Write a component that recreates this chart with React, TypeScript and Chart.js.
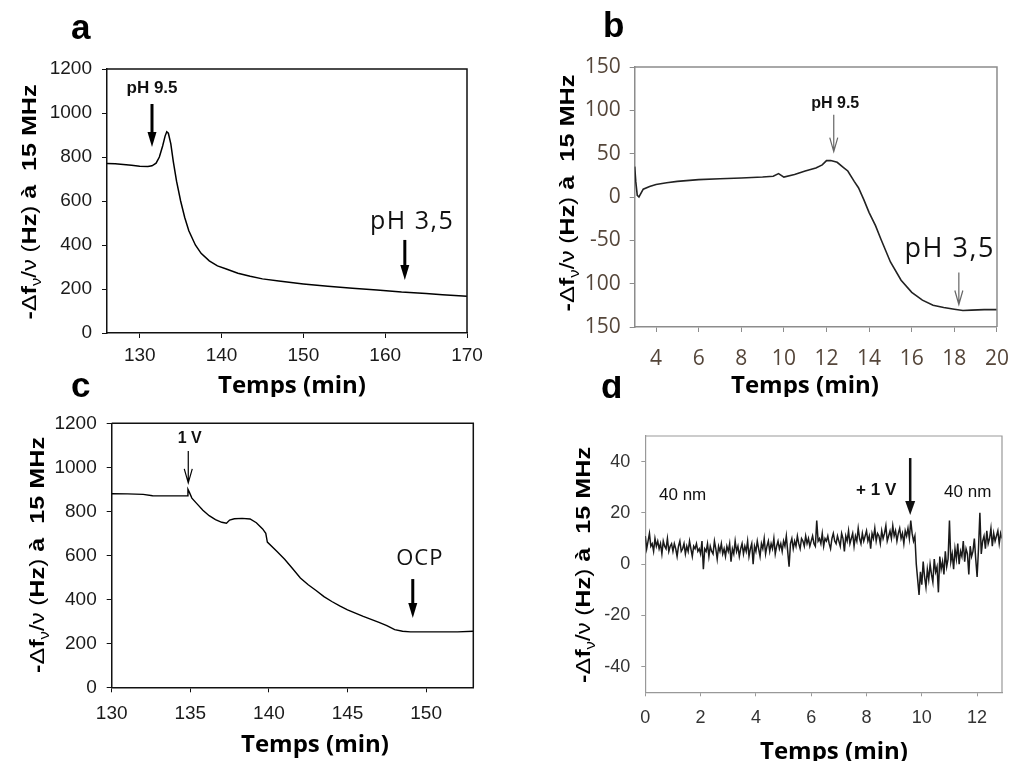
import React, { useEffect, useRef } from "react";
import { Chart, registerables } from "chart.js";
Chart.register(...registerables);

const LS = "'Liberation Sans', Arial, sans-serif";
const OS = "'Open Sans', sans-serif";

// ---------- Panel a ----------
const aTime = [126, 127, 128, 129, 130, 131, 131.5, 132, 132.4, 132.8, 133.1, 133.3, 133.5, 133.8, 134.1, 134.5, 135, 135.5, 136, 136.8, 137.5, 138.5, 139.5, 140.5, 142, 143.5, 145, 147, 150, 153, 156, 159, 162, 165, 167, 170];
const aSignal = [770, 769, 766, 762, 758, 757, 760, 772, 800, 850, 895, 915, 908, 860, 780, 690, 600, 525, 465, 400, 362, 328, 305, 292, 272, 258, 246, 236, 223, 212, 203, 195, 186, 180, 174, 167];
const aXTicks = [130, 140, 150, 160, 170];
const aYTicks = [0, 200, 400, 600, 800, 1000, 1200];

// ---------- Panel b ----------
const bTime = [3.0, 3.05, 3.12, 3.2, 3.4, 3.7, 4, 4.5, 5, 6, 7, 8, 9, 9.5, 9.75, 10, 10.5, 11, 11.5, 11.8, 12, 12.2, 12.5, 12.8, 13, 13.3, 13.5, 13.75, 14, 14.3, 14.55, 15, 15.5, 16, 16.5, 17, 17.5, 18, 18.4, 18.8, 19.4, 20];
const bSignal = [35, 18, 2, 0, 9, 12, 14.5, 16.5, 18, 20, 21, 22, 23, 24, 27, 23, 26, 30, 33.5, 37, 42, 42, 40, 34, 30, 18, 10.7, -3, -18, -33, -48.5, -75, -96, -110, -119, -125, -127.5, -129.5, -131, -130.5, -130, -130];
const bXTicks = [4, 6, 8, 10, 12, 14, 16, 18, 20];
const bYTicks = [150, 100, 50, 0, -50, -100, -150];
const bYTickLabels = ["150", "100", "50", "0", "-50", "100", "150"];

// ---------- Panel c ----------
const cTime = [130, 131, 132, 132.6, 133, 134, 134.8, 134.85, 134.95, 135.1, 135.4, 135.8, 136.2, 136.6, 137, 137.3, 137.5, 137.8, 138.3, 138.8, 139.2, 139.6, 139.8, 139.9, 140.5, 141, 141.5, 142, 142.5, 143, 143.5, 144, 144.5, 145, 146, 147, 147.5, 148, 148.5, 149, 150, 151, 152, 153];
const cSignal = [880, 879, 877, 871, 870, 870, 870, 900, 885, 860, 836, 805, 780, 762, 750, 746, 760, 766, 768, 765, 748, 720, 700, 660, 618, 582, 540, 497, 466, 440, 412, 390, 370, 352, 322, 295, 280, 262, 255, 252, 252, 252, 252, 255];
const cXTicks = [130, 135, 140, 145, 150];
const cYTicks = [0, 200, 400, 600, 800, 1000, 1200];

// ---------- Panel d ----------
const dTimeStep = 0.05;
const dSignal = [
  11, 6, 9, 12, 7, 8, 5, 10, 7, 9, 6, 8, 4, 9, 7, 6, 10, 5, 7, 8,
  5, 8, 6, 3, 7, 9, 5, 6, 8, 4, 7, 5, 9, 6, 3, 7, 6, 8, 5, 6,
  4, 9, -2, 6, 5, 8, 3, 7, 5, 4, 9, 6, 2, 7, 5, 8, 4, 6, 3, 7,
  5, 8, 1, 6, 4, 9, 5, 7, 3, 6, 8, 4, 7, 5, 9, 3, 6, 8, 0, 7,
  5, 9, 6, 3, 8, 6, 10, 4, 7, 9, 5, 8, 6, 10, 4, 7, 9, 6, 8, 5,
  9, 7, 11, 5, -1, 8, 10, 6, 9, 7, 11, 8, 6, 10, 9, 7, 11, 8, 10, 7,
  9, 11, 8, 7, 17, 9, 10, 8, 12, 7, 10, 9, 11, 8, 6, 10, 12, 9, 8, 11,
  9, 7, 12, 10, 5, 11, 9, 13, 8, 10, 12, 7, 11, 9, 14, 10, 8, 12, 9, 11,
  13, 9, 11, 6, 12, 10, 14, 9, 12, 11, 8, 13, 10, 12, 15, 9, 11, 13, 10, 15,
  11, 13, 9, 12, 14, 10, 12, 8, 13, 11, 14, 10, 17, 12, 9, 11,
  0,
  -6, -12, -3, -8, 1, -5, -9, -2, -6, 0, -4, -7, 2, -3, -1, -11, 3, -2, 1, -4, 5, -1, 2,
  17, 1, 4, -2, 6, 2, 8, 0, 5, 3, 9, 1, 6, 4, -4, 7, 3, 5, 10, 2,
  -5, 6, 20, 4, 9, 11, 6, 13, 8, 10, 14, 7, 12, 9, 11, 13, 8, 12, 10,
];
const dTime = dSignal.map((_, i) => Math.round(i * dTimeStep * 100) / 100);
const dXTicks = [0, 2, 4, 6, 8, 10, 12];
const dYTicks = [-40, -20, 0, 20, 40];

const xTitleText = "Temps (min)";

type Arrow = { x: number; y1: number; y2: number; kind: "bold" | "thin" | "medium"; color: string };
type Label = { text: string; x: number; y: number; font: string; spacing?: number };
type Spec = {
  key: string;
  left: number; top: number; width: number; height: number;
  area: { l: number; t: number; r: number; b: number };
  xs: number[]; ys: number[];
  xMin: number; xMax: number; yMin: number; yMax: number;
  xTicks: number[]; yTicks: number[]; yTickLabels?: string[];
  tickFamily: string; tickSize: number; tickColor: string;
  axisColor: string; boxWidth: number; tickLen: number; yPad: number; xPad: number;
  lineColor: string; lineWidth: number;
  letter: { text: string; x: number; y: number; size: number };
  xTitle: { x: number; y: number };
  yTitle: { x: number; y: number; len: number };
  labels: Label[]; arrows: Arrow[];
};

function drawYTitle(ctx: CanvasRenderingContext2D, cx: number, cy: number, len: number) {
  const segs = [
    { t: "-", f: `bold 21px ${LS}`, dy: 0 },
    { t: "\u0394", f: `21px ${LS}`, dy: 0 },
    { t: "f", f: `bold 21px ${LS}`, dy: 0 },
    { t: "\u03bd", f: `14px ${LS}`, dy: 5 },
    { t: "/\u03bd", f: `20px ${LS}`, dy: 0 },
    { t: " (", f: `20px ${LS}`, dy: 0 },
    { t: "Hz", f: `bold 21px ${LS}`, dy: 0 },
    { t: ")", f: `20px ${LS}`, dy: 0 },
    { t: " \u00e0  15 MHz", f: `bold 21px ${LS}`, dy: 0 },
  ];
  const widths = segs.map((s) => { ctx.font = s.f; return ctx.measureText(s.t).width; });
  const total = widths.reduce((a, b) => a + b, 0);
  ctx.save();
  ctx.translate(cx, cy);
  ctx.rotate(-Math.PI / 2);
  ctx.scale(len / total, 1);
  ctx.fillStyle = "#000";
  ctx.textAlign = "left";
  ctx.textBaseline = "alphabetic";
  let x = -total / 2;
  segs.forEach((s, i) => {
    ctx.font = s.f;
    ctx.fillText(s.t, x, 7.5 + s.dy);
    x += widths[i];
  });
  ctx.restore();
}

function drawArrow(ctx: CanvasRenderingContext2D, x: number, yTop: number, yTip: number, kind: string, color: string) {
  ctx.save();
  ctx.strokeStyle = color;
  ctx.fillStyle = color;
  if (kind === "thin") {
    ctx.lineWidth = 1.2;
    ctx.beginPath();
    ctx.moveTo(x, yTop);
    ctx.lineTo(x, yTip);
    ctx.moveTo(x - 4, yTip - 14);
    ctx.lineTo(x, yTip);
    ctx.lineTo(x + 4, yTip - 14);
    ctx.stroke();
  } else {
    const lw = kind === "bold" ? 3 : 2.5;
    const hl = kind === "bold" ? 15 : 14;
    const hw = kind === "bold" ? 4.5 : 5;
    ctx.lineWidth = lw;
    ctx.beginPath();
    ctx.moveTo(x, yTop);
    ctx.lineTo(x, yTip - hl + 2);
    ctx.stroke();
    ctx.beginPath();
    ctx.moveTo(x - hw, yTip - hl);
    ctx.lineTo(x, yTip);
    ctx.lineTo(x + hw, yTip - hl);
    ctx.closePath();
    ctx.fill();
  }
  ctx.restore();
}

const specs: Spec[] = [
  {
    key: "a", left: 0, top: 0, width: 512, height: 397,
    area: { l: 107, t: 69, r: 467, b: 333 },
    xs: aTime, ys: aSignal, xMin: 126, xMax: 170, yMin: 0, yMax: 1200,
    xTicks: aXTicks, yTicks: aYTicks,
    tickFamily: LS, tickSize: 19, tickColor: "#1a1a1a",
    axisColor: "#111", boxWidth: 1.5, tickLen: 5, yPad: 10, xPad: 6,
    lineColor: "#000", lineWidth: 1.5,
    letter: { text: "a", x: 71, y: 39, size: 35 },
    xTitle: { x: 292, y: 393 },
    yTitle: { x: 28, y: 202, len: 235 },
    labels: [
      { text: "pH 9.5", x: 131.5, y: 1091, font: `bold 17px ${LS}` },
      { text: "pH 3,5", x: 163.3, y: 473, font: `25px ${OS}`, spacing: 1.5 },
    ],
    arrows: [
      { x: 131.5, y1: 1041, y2: 845, kind: "bold", color: "#000" },
      { x: 162.4, y1: 423, y2: 241, kind: "bold", color: "#000" },
    ],
  },
  {
    key: "b", left: 512, top: 0, width: 511, height: 397,
    area: { l: 122.7, t: 67, r: 496.7, b: 327 },
    xs: bTime, ys: bSignal, xMin: 3, xMax: 20, yMin: -150, yMax: 150,
    xTicks: bXTicks, yTicks: bYTicks, yTickLabels: bYTickLabels,
    tickFamily: OS, tickSize: 21, tickColor: "#55463a",
    axisColor: "#8c8c8c", boxWidth: 1.5, tickLen: 5, yPad: 9, xPad: 14,
    lineColor: "#222", lineWidth: 1.6,
    letter: { text: "b", x: 91, y: 37, size: 35 },
    xTitle: { x: 293, y: 393 },
    yTitle: { x: 54, y: 193, len: 237 },
    labels: [
      { text: "pH 9.5", x: 12.41, y: 103, font: `bold 16px ${LS}` },
      { text: "pH 3,5", x: 17.78, y: -69, font: `27px ${OS}`, spacing: 1.5 },
    ],
    arrows: [
      { x: 12.34, y1: 94.8, y2: 52.3, kind: "thin", color: "#666" },
      { x: 18.21, y1: -87, y2: -124, kind: "thin", color: "#666" },
    ],
  },
  {
    key: "c", left: 0, top: 376, width: 512, height: 385,
    area: { l: 111.7, t: 47.3, r: 473.3, b: 311.3 },
    xs: cTime, ys: cSignal, xMin: 130, xMax: 153, yMin: 0, yMax: 1200,
    xTicks: cXTicks, yTicks: cYTicks,
    tickFamily: LS, tickSize: 19, tickColor: "#1a1a1a",
    axisColor: "#111", boxWidth: 1.5, tickLen: 5, yPad: 10, xPad: 10,
    lineColor: "#000", lineWidth: 1.4,
    letter: { text: "c", x: 71, y: 21, size: 35 },
    xTitle: { x: 315, y: 376 },
    yTitle: { x: 36, y: 179, len: 236 },
    labels: [
      { text: "1 V", x: 134.96, y: 1110, font: `bold 16px ${LS}` },
      { text: "OCP", x: 149.6, y: 556, font: `22px ${OS}`, spacing: 1 },
    ],
    arrows: [
      { x: 134.87, y1: 1074, y2: 929, kind: "thin", color: "#000" },
      { x: 149.15, y1: 492, y2: 315, kind: "bold", color: "#000" },
    ],
  },
  {
    key: "d", left: 512, top: 376, width: 511, height: 385,
    area: { l: 133.3, t: 60, r: 490, b: 316.3 },
    xs: dTime, ys: dSignal, xMin: 0, xMax: 12.9, yMin: -50, yMax: 50,
    xTicks: dXTicks, yTicks: dYTicks,
    tickFamily: LS, tickSize: 18, tickColor: "#333",
    axisColor: "#999", boxWidth: 1.2, tickLen: 4, yPad: 11, xPad: 11,
    lineColor: "#1a1a1a", lineWidth: 1.5,
    letter: { text: "d", x: 89, y: 22, size: 35 },
    xTitle: { x: 322, y: 383 },
    yTitle: { x: 70, y: 189, len: 236 },
    labels: [
      { text: "40 nm", x: 1.35, y: 25, font: `17px ${LS}` },
      { text: "+ 1 V", x: 8.35, y: 27, font: `bold 17px ${LS}` },
      { text: "40 nm", x: 11.66, y: 26.2, font: `17px ${LS}` },
    ],
    arrows: [{ x: 9.58, y1: 41.4, y2: 19.2, kind: "medium", color: "#111" }],
  },
];

function PanelChart({ spec }: { spec: Spec }) {
  const ref = useRef<HTMLCanvasElement>(null);
  useEffect(() => {
    const s = spec;
    const canvas = ref.current;
    if (!canvas) return;
    const deco = {
      id: "deco_" + s.key,
      afterDraw(chart: any) {
        const ctx: CanvasRenderingContext2D = chart.ctx;
        const ca = chart.chartArea;
        const xs = chart.scales.x;
        const ys = chart.scales.y;
        ctx.save();
        ctx.strokeStyle = s.axisColor;
        ctx.lineWidth = s.boxWidth;
        ctx.beginPath();
        ctx.moveTo(ca.left, ca.top);
        ctx.lineTo(ca.right, ca.top);
        ctx.lineTo(ca.right, ca.bottom);
        ctx.stroke();
        // panel letter
        ctx.fillStyle = "#000";
        ctx.textAlign = "left";
        ctx.textBaseline = "alphabetic";
        ctx.font = `bold ${s.letter.size}px ${LS}`;
        ctx.fillText(s.letter.text, s.letter.x, s.letter.y);
        // x title
        ctx.textAlign = "center";
        ctx.font = `bold 24px ${OS}`;
        ctx.fillText(xTitleText, s.xTitle.x, s.xTitle.y);
        // annotations
        s.labels.forEach((l) => {
          ctx.font = l.font;
          (ctx as any).letterSpacing = (l.spacing || 0) + "px";
          ctx.fillStyle = "#111";
          ctx.textAlign = "center";
          ctx.fillText(l.text, xs.getPixelForValue(l.x), ys.getPixelForValue(l.y));
          (ctx as any).letterSpacing = "0px";
        });
        s.arrows.forEach((a) => {
          drawArrow(ctx, xs.getPixelForValue(a.x), ys.getPixelForValue(a.y1), ys.getPixelForValue(a.y2), a.kind, a.color);
        });
        ctx.restore();
        drawYTitle(ctx, s.yTitle.x, s.yTitle.y, s.yTitle.len);
      },
    };
    const points = s.xs.map((x, i) => ({ x, y: s.ys[i] }));
    const chart = new Chart(canvas, {
      type: "line",
      data: {
        datasets: [
          {
            data: points,
            borderColor: s.lineColor,
            borderWidth: s.lineWidth,
            pointRadius: 0,
            tension: 0,
            fill: false,
          },
        ],
      },
      options: {
        responsive: false,
        animation: false,
        devicePixelRatio: 1,
        layout: { padding: { top: s.area.t, right: s.width - s.area.r, left: 0, bottom: 0 } },
        plugins: { legend: { display: false }, tooltip: { enabled: false }, title: { display: false } },
        scales: {
          x: {
            type: "linear",
            min: s.xMin,
            max: s.xMax,
            afterBuildTicks: (axis: any) => { axis.ticks = s.xTicks.map((v) => ({ value: v })); },
            afterFit: (axis: any) => { axis.height = s.height - s.area.b; },
            ticks: {
              autoSkip: false, maxRotation: 0, minRotation: 0,
              color: s.tickColor, padding: s.xPad,
              font: { family: s.tickFamily, size: s.tickSize },
              callback: (v: any) => String(v),
            },
            grid: { display: true, drawOnChartArea: false, drawTicks: true, tickLength: s.tickLen, color: s.axisColor, lineWidth: 1 },
            border: { display: true, color: s.axisColor, width: s.boxWidth },
          },
          y: {
            type: "linear",
            min: s.yMin,
            max: s.yMax,
            afterBuildTicks: (axis: any) => { axis.ticks = s.yTicks.map((v) => ({ value: v })); },
            afterFit: (axis: any) => { axis.width = s.area.l; },
            ticks: {
              autoSkip: false,
              color: s.tickColor, padding: s.yPad,
              font: { family: s.tickFamily, size: s.tickSize },
              callback: (v: any) => {
                if (s.yTickLabels) {
                  const idx = s.yTicks.indexOf(Number(v));
                  return idx >= 0 ? s.yTickLabels[idx] : "";
                }
                return String(v);
              },
            },
            grid: { display: true, drawOnChartArea: false, drawTicks: true, tickLength: s.tickLen, color: s.axisColor, lineWidth: 1 },
            border: { display: true, color: s.axisColor, width: s.boxWidth },
          },
        },
      },
      plugins: [deco],
    } as any);
    return () => chart.destroy();
  }, [spec]);
  return (
    <canvas
      ref={ref}
      width={spec.width}
      height={spec.height}
      style={{ position: "absolute", left: spec.left, top: spec.top, width: spec.width, height: spec.height }}
    />
  );
}

export default function App() {
  return (
    <div style={{ position: "absolute", left: 0, top: 0, width: 1023, height: 761, background: "#fff", overflow: "hidden" }}>
      {specs.map((s) => (
        <PanelChart key={s.key} spec={s} />
      ))}
    </div>
  );
}
